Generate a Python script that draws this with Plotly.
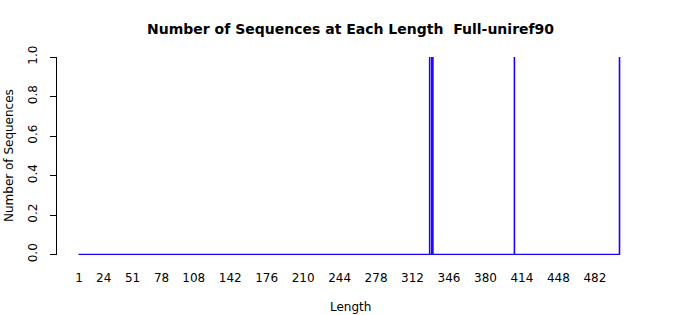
import numpy as np
import plotly.graph_objects as go

# Data
min_length = 1
max_length = 505
observed_lengths = [328, 330, 331, 407, 505]
observed_counts = [1, 1, 1, 1, 1]
tick_labels = [1, 24, 51, 78, 108, 142, 176, 210, 244, 278, 312, 346, 380, 414, 448, 482]

lengths = np.arange(min_length, max_length + 1)
counts = np.zeros(len(lengths))
for L, c in zip(observed_lengths, observed_counts):
    counts[L - min_length] = c

FONT = "DejaVu Sans"
BLUE = "#1a00ff"

# vertical bar segments for every length (zero-height ones collapse onto the baseline)
seg_x, seg_y = [], []
for L, c in zip(lengths, counts):
    if c > 0:
        seg_x += [L, L, None]
        seg_y += [0, c, None]

fig = go.Figure()
# baseline formed by the borders of the zero-height bars
fig.add_trace(go.Scatter(
    x=[lengths[0] - 0.4, lengths[-1] + 0.4], y=[0, 0], mode="lines",
    line=dict(color=BLUE, width=1.4), showlegend=False, hoverinfo="skip",
))
fig.add_trace(go.Scatter(
    x=seg_x, y=seg_y, mode="lines",
    line=dict(color=BLUE, width=1.6), showlegend=False, hoverinfo="skip",
))

fig.update_layout(
    width=700, height=315,
    margin=dict(l=57, r=57, t=57, b=60),
    paper_bgcolor="white", plot_bgcolor="white",
    font=dict(family=FONT, size=12, color="black"),
    xaxis=dict(
        range=[-19.5, 526.9], showline=False, showgrid=False, zeroline=False,
        ticks="", tickvals=tick_labels, ticktext=[str(t) for t in tick_labels],
        tickfont=dict(size=12), ticklabelstandoff=14,
    ),
    yaxis=dict(
        range=[-0.0025, 1], showline=True, linecolor="black", linewidth=1,
        showgrid=False, zeroline=False, ticks="outside", ticklen=6,
        tickcolor="black", tickvals=[0, 0.2, 0.4, 0.6, 0.8, 1.0],
        ticktext=["0.0", "0.2", "0.4", "0.6", "0.8", "1.0"],
        tickangle=-90, tickfont=dict(size=12), ticklabelstandoff=8,
    ),
    annotations=[
        dict(text="<b>Number of Sequences at Each Length  Full-uniref90</b>",
             xref="paper", yref="paper", x=0.5, y=1, yshift=28,
             showarrow=False, font=dict(size=14, family=FONT), xanchor="center", yanchor="middle"),
        dict(text="Length", xref="paper", yref="paper", x=0.5, y=0, yshift=-52,
             showarrow=False, font=dict(size=12, family=FONT), xanchor="center", yanchor="middle"),
        dict(text="Number of Sequences", xref="paper", yref="paper", x=0, y=0.5,
             xshift=-48, textangle=-90, showarrow=False,
             font=dict(size=12, family=FONT), xanchor="center", yanchor="middle"),
    ],
)

fig.write_html("out.html")
